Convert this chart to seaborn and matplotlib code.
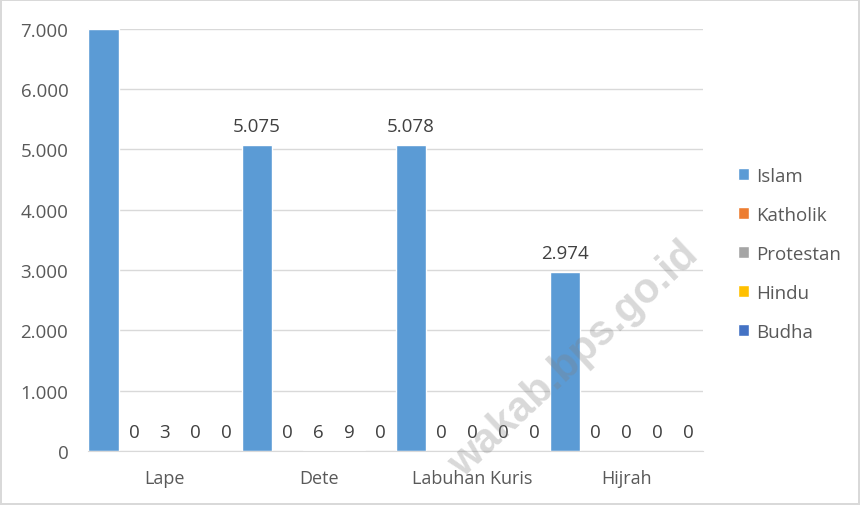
import matplotlib
matplotlib.use("Agg")
import matplotlib.pyplot as plt
import pandas as pd
import seaborn as sns
from matplotlib.ticker import FuncFormatter

# ── Data ──────────────────────────────────────────────────────────────────────
villages = ["Lape", "Dete", "Labuhan Kuris", "Hijrah"]
religions = ["Islam", "Katholik", "Protestan", "Hindu", "Budha"]
islam = [7000, 5075, 5078, 2974]
katholik = [0, 0, 0, 0]
protestan = [3, 6, 0, 0]
hindu = [0, 9, 0, 0]
budha = [0, 0, 0, 0]

colors = ["#5B9BD5", "#ED7D31", "#A5A5A5", "#FFC000", "#4472C4"]
Y_MAX = 7000

series = [islam, katholik, protestan, hindu, budha]
rows = []
for rel, vals in zip(religions, series):
    for v, val in zip(villages, vals):
        rows.append({"desa": v, "agama": rel, "jumlah": val})
df = pd.DataFrame(rows)


def fmt_num(x, pos=None):
    return f"{int(round(x)):,}".replace(",", ".")


sns.set_style("white")
plt.rcParams["font.family"] = ["Open Sans", "DejaVu Sans"]

fig = plt.figure(figsize=(8.6, 5.06), dpi=100)
fig.patch.set_edgecolor("#d9d9d9")
fig.patch.set_linewidth(1.5)
ax = fig.add_axes([0.102, 0.107, 0.716, 0.834])

sns.barplot(
    data=df, x="desa", y="jumlah", hue="agama",
    order=villages, hue_order=religions, palette=colors,
    width=1.0, saturation=1, ax=ax, legend=True,
)

# the Lape/Islam label sits above the plot area, so it is not shown
for cont in ax.containers:
    vals = [b.get_height() for b in cont]
    labels = [fmt_num(v) if v < Y_MAX else "" for v in vals]
    ax.bar_label(cont, labels=labels, padding=7, fontsize=13.5, color="#404040")

ax.set_ylim(0, Y_MAX)
ax.set_xlim(-0.5, 3.5)
ax.set_yticks(range(0, Y_MAX + 1, 1000))
ax.yaxis.set_major_formatter(FuncFormatter(fmt_num))
ax.grid(axis="y", color="#d9d9d9", linewidth=1.0)
ax.set_axisbelow(True)
for side in ["left", "right", "top"]:
    ax.spines[side].set_visible(False)
ax.spines["bottom"].set_color("#d9d9d9")
ax.tick_params(axis="both", length=0, colors="#595959")
ax.tick_params(axis="x", pad=13, labelsize=13)
ax.tick_params(axis="y", pad=14, labelsize=13.5)
ax.set_xlabel("")
ax.set_ylabel("")

leg = ax.legend(
    loc="center left", bbox_to_anchor=(1.028, 0.467), frameon=False,
    fontsize=13.5, labelspacing=1.12, handlelength=0.6, handleheight=0.6,
    handletextpad=0.4,
)
for t in leg.get_texts():
    t.set_color("#595959")

# watermark, a translucent grey layer over the chart
fig.text(0.668, 0.288, "wakab.bps.go.id", rotation=43, rotation_mode="anchor",
         fontsize=30, fontweight="bold", family="Liberation Sans",
         color="#808080", alpha=0.3, ha="center", va="center", zorder=10)

fig.savefig("out.png", dpi=100)
